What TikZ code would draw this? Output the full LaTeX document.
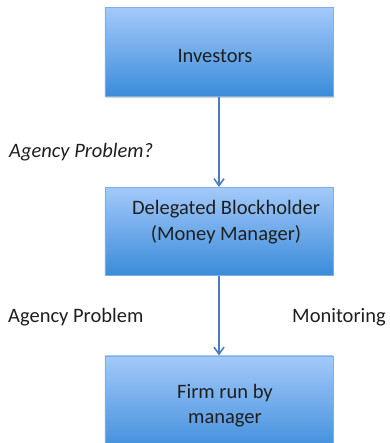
\documentclass[tikz,border=0pt]{standalone}
\usepackage{fontspec}
\setmainfont{Carlito}
\usetikzlibrary{arrows.meta,shadows}
\definecolor{boxtop}{HTML}{A3C9FA}
\definecolor{boxbot}{HTML}{3A8BDA}
\definecolor{boxline}{HTML}{7EAEE6}
\definecolor{arrowc}{HTML}{4A7EBB}
\begin{document}
\begin{tikzpicture}[x=1pt,y=1pt,
  blockbox/.style={draw=boxline, line width=0.8pt, top color=boxtop, bottom color=boxbot,
    minimum width=228pt, anchor=north west, inner sep=0pt,
    drop shadow={shadow xshift=0.6pt, shadow yshift=-1pt, opacity=0.35, fill=black!50}},
  conn/.style={draw=arrowc, line width=1.6pt, -{Straight Barb[length=7pt,width=10pt,line width=1.6pt]}},
  lbl/.style={font=\fontsize{20.5}{25.5}\selectfont, text=black!88, inner sep=0pt}]
\useasboundingbox (0,0) rectangle (389,-443);
\node[blockbox, minimum height=89pt] (inv) at (104.5,-7.5) {};
\node[lbl] at (215,-56) {Investors};
\node[blockbox, minimum height=88pt] (del) at (104.5,-187) {};
\node[lbl, align=center] at (226,-222) {Delegated Blockholder\\(Money Manager)};
\node[blockbox, minimum height=100pt] (firm) at (104.5,-355.5) {};
\node[lbl, align=center] at (225,-405.5) {Firm run by\\manager};
\draw[conn] (inv.south -| 219,0) -- (del.north -| 219,0);
\draw[conn] (del.south -| 219,0) -- (firm.north -| 219,0);
\node[lbl, anchor=west, font=\fontsize{20.5}{25.5}\selectfont\itshape] (ap1) at (9,-152) {Agency Problem?};
\node[lbl, anchor=west] (ap2) at (8,-317) {Agency Problem};
\node[lbl, anchor=east] (mon) at (386,-317) {Monitoring};
\end{tikzpicture}
\end{document}
